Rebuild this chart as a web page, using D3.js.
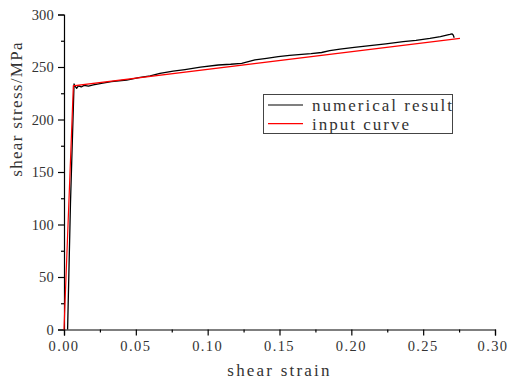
<!DOCTYPE html>
<html>
<head>
<meta charset="utf-8">
<script src="https://cdn.jsdelivr.net/npm/d3@7"></script>
<style>
  html, body { margin: 0; padding: 0; background: #fff; }
  svg text { font-family: "Liberation Serif", "DejaVu Serif", serif; fill: #333; }
</style>
</head>
<body>
<svg id="chart" width="509" height="381"></svg>
<script>
// ---- data ----
const numericalStrain = [0.0025, 0.0045, 0.0070, 0.0078, 0.0088, 0.0100, 0.0120, 0.0140, 0.0170, 0.0204, 0.0260, 0.0330, 0.0436, 0.0520, 0.0600, 0.0668, 0.0760, 0.0842, 0.0950, 0.1074, 0.1160, 0.1237, 0.1329, 0.1410, 0.1491, 0.1570, 0.1654, 0.1720, 0.1793, 0.1850, 0.1921, 0.2020, 0.2129, 0.2240, 0.2361, 0.2450, 0.2547, 0.2620, 0.2686, 0.2700, 0.2709, 0.2716];
const numericalStress = [0, 120, 233.8, 231.5, 229.7, 232.0, 231.0, 232.5, 231.8, 232.9, 234.5, 236.0, 237.6, 239.8, 241.5, 244.0, 246.0, 247.5, 249.8, 251.9, 252.6, 253.5, 256.7, 258.2, 259.8, 261.0, 262.1, 262.8, 263.8, 265.5, 267.1, 268.6, 270.3, 272.0, 274.1, 275.4, 277.3, 279.0, 281.1, 281.6, 280.5, 277.9];
const inputStrain = [0, 0.0065, 0.2756];
const inputStress = [0, 232, 277.3];
const xTicks = [0, 0.05, 0.10, 0.15, 0.20, 0.25, 0.30];
const yTicks = [0, 50, 100, 150, 200, 250, 300];
const legendLabels = ["numerical result", "input curve"];
const seriesColors = ["#000000", "#ff0000"];

// ---- layout ----
const svg = d3.select("#chart");
const x = d3.scaleLinear().domain([0, 0.30]).range([64, 495]);
const y = d3.scaleLinear().domain([0, 300]).range([329.5, 14.5]);

// y axis
const yAxisG = svg.append("g").attr("transform", "translate(64,0)");
yAxisG.call(d3.axisLeft(y).tickValues(yTicks).tickSize(6).tickPadding(4).tickFormat(d3.format("d")));
yAxisG.append("g").call(d3.axisLeft(y).tickValues(d3.range(25, 300, 50)).tickSize(3).tickFormat(""))
  .select(".domain").remove();

// x axis
const xAxisG = svg.append("g").attr("transform", "translate(0,329.5)");
xAxisG.call(d3.axisBottom(x).tickValues(xTicks).tickSize(6).tickPadding(5).tickFormat(d3.format(".2f")));
xAxisG.append("g").call(d3.axisBottom(x).tickValues(d3.range(0.025, 0.3, 0.05)).tickSize(3).tickFormat(""))
  .select(".domain").remove();

svg.selectAll(".domain").attr("stroke", "#000").attr("stroke-width", 1.2);
svg.selectAll(".tick line").attr("stroke", "#000").attr("stroke-width", 1.2);
svg.selectAll(".tick text")
  .style("font-family", "'Liberation Serif', serif")
  .style("font-size", "14.5px").attr("fill", "#333");
yAxisG.selectAll(".tick text").style("letter-spacing", "0.2px");
xAxisG.selectAll(".tick text").style("letter-spacing", "1.4px").attr("dx", "-0.5");
xAxisG.selectAll(".tick text").filter(d => d === 0.30).attr("dx", "-2.5");

// axis titles
svg.append("text").attr("x", 279.5).attr("y", 376).attr("text-anchor", "middle")
  .style("font-size", "17px").style("letter-spacing", "2.2px").text("shear strain");
svg.append("text").attr("transform", "translate(22,109) rotate(-90)").attr("text-anchor", "middle")
  .style("font-size", "17px").style("letter-spacing", "1.3px").text("shear stress/MPa");

// lines
const line = d3.line().x(d => x(d[0])).y(d => y(d[1]));
const numData = numericalStrain.map((s, i) => [s, numericalStress[i]]);
const inData = inputStrain.map((s, i) => [s, inputStress[i]]);
svg.append("path").datum(numData).attr("d", line).attr("fill", "none")
  .attr("stroke", seriesColors[0]).attr("stroke-width", 1.3).attr("stroke-linejoin", "round");
svg.append("path").datum(inData).attr("d", line).attr("fill", "none")
  .attr("stroke", seriesColors[1]).attr("stroke-width", 1.2);

// legend
const lg = svg.append("g");
lg.append("rect").attr("x", 263.5).attr("y", 94.5).attr("width", 189).attr("height", 39)
  .attr("fill", "#fff").attr("stroke", "#444").attr("stroke-width", 1);
legendLabels.forEach((lab, i) => {
  const cy = 105 + i * 18.7;
  lg.append("line").attr("x1", 268).attr("x2", 303).attr("y1", cy).attr("y2", cy)
    .attr("stroke", seriesColors[i]).attr("stroke-width", 1.2);
  lg.append("text").attr("x", 312).attr("y", cy + 6)
    .style("font-size", "17px").style("letter-spacing", "2px").text(lab);
});
</script>
</body>
</html>
